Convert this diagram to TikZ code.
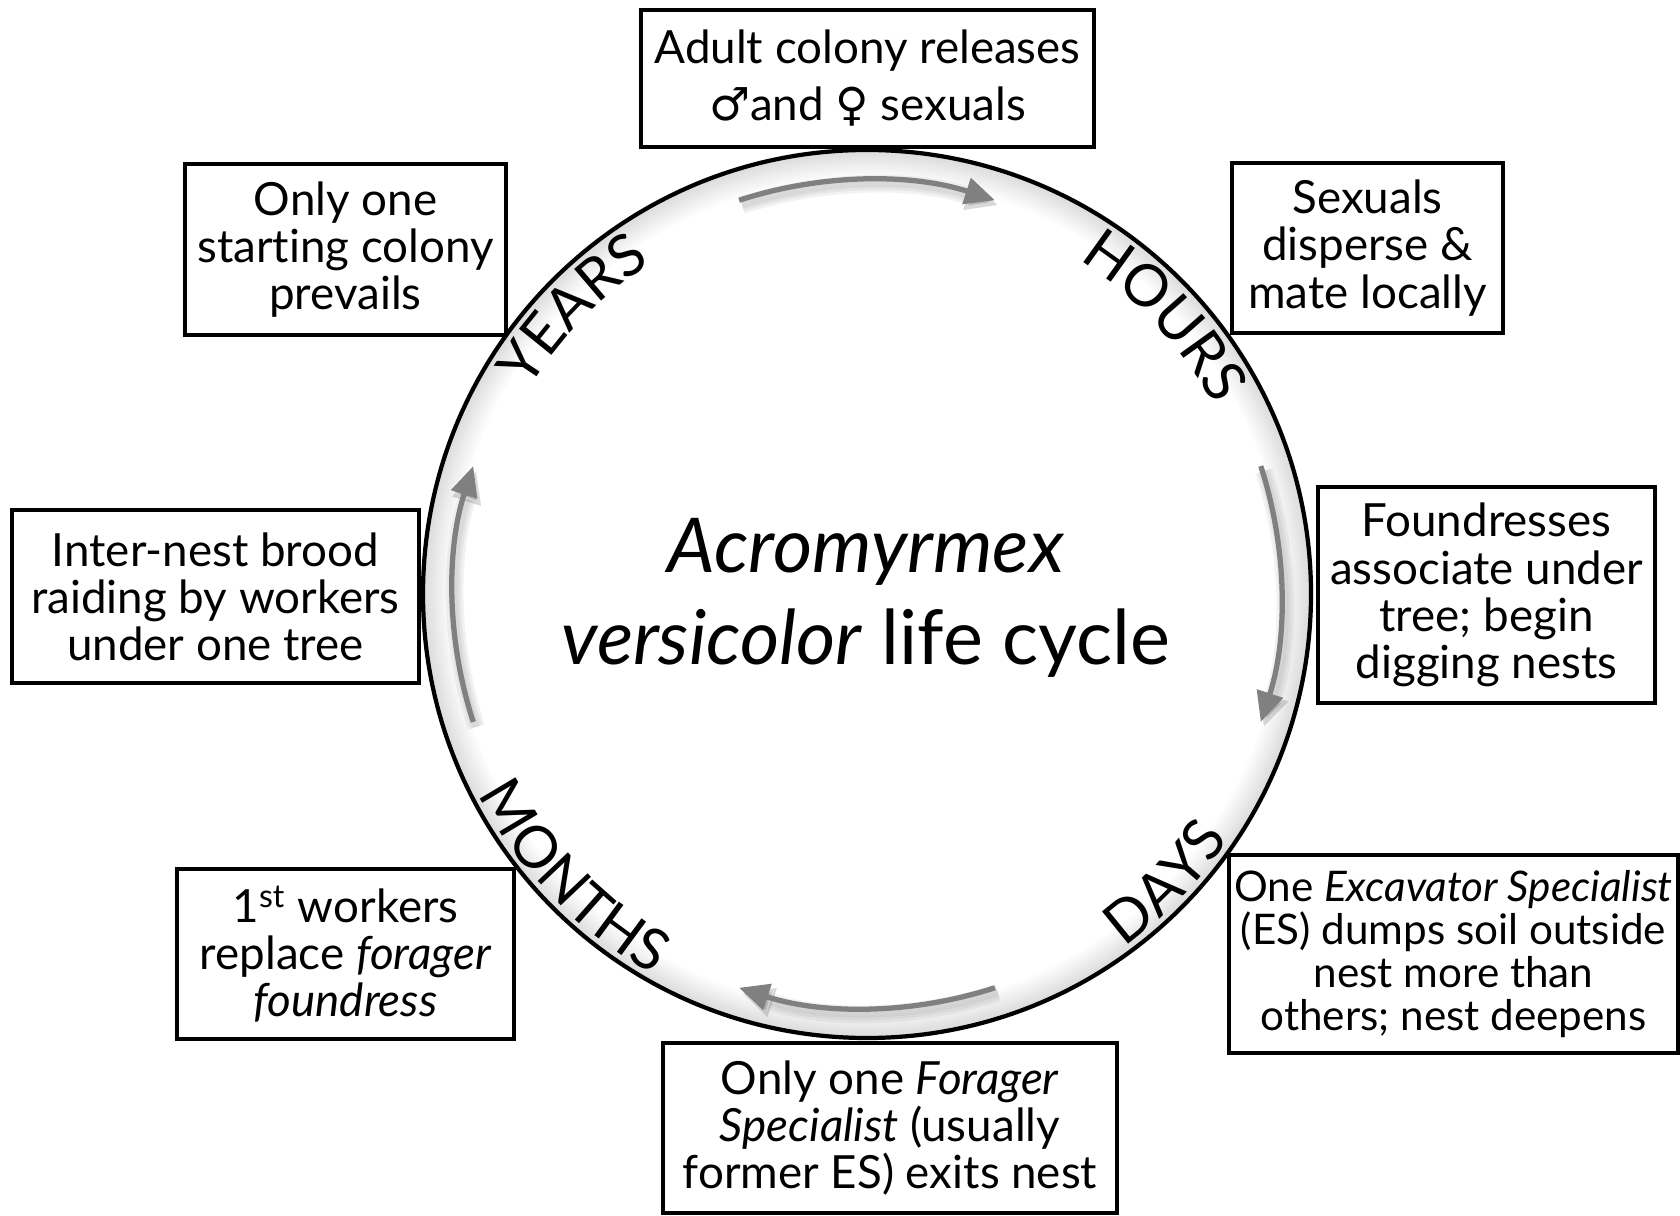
\documentclass[tikz,border=0pt]{standalone}
\usepackage{fontspec}
\setmainfont{Lato}[Ligatures=NoCommon]
\newfontfamily\symbfont{DejaVu Sans}
\usetikzlibrary{arrows.meta,decorations.text}
\newcommand\boxfont{\fontsize{13}{13.4}\selectfont}
\newcommand\phasefont{\fontsize{16.5}{18}\selectfont}
\tikzset{
  stagebox/.style={draw, fill=white, line width=1pt, align=center, inner sep=0pt, font=\boxfont},
  cyclearrow/.style={draw=black!50, line width=1.5pt, -{Triangle[length=8.5pt,width=7.5pt]}},
  arrowglow/.style={draw=black, opacity=.05, line width=#1, -{Triangle[length=9pt,width=8pt]}},
  phase/.style={decorate, decoration={text along path, text align=center, text={|\phasefont|#1}}},
}

\begin{document}
\begin{tikzpicture}[x=0.01cm,y=0.01cm]
  \useasboundingbox (0,0) rectangle (1680,1215);
  \coordinate (c) at (867,621);
  % soft shadow inside the ring
  \foreach \k in {0,...,14}{
    \pgfmathsetmacro\glow{14-\k}
    \pgfmathsetmacro\rr{444-2*\k}
    \fill[black!\glow] (c) circle[radius=\rr];
  }
  \fill[white] (c) circle[radius=415];
  \draw[line width=1.2pt] (c) circle[radius=444];

  \foreach \a in {90,0,-90,180}{
    \foreach \w in {5pt,3.5pt,2pt}
      \draw[arrowglow=\w] ([shift={(3,-5)}]c) ++({\a+18}:414) arc[start angle=\a+18, end angle=\a-18, radius=414];
    \draw[cyclearrow] (c) ++({\a+18}:414) arc[start angle=\a+18, end angle=\a-18, radius=414];
  }

  \path[phase=YEARS] ([shift={(166:395)}]c) arc[start angle=166, end angle=106, radius=395];
  \path[phase=HOURS] ([shift={(73:395)}]c) arc[start angle=73, end angle=13, radius=395];
  \path[phase=DAYS] ([shift={(-74:437)}]c) arc[start angle=-74, end angle=-14, radius=437];
  \path[phase=MONTHS] ([shift={(-166:437)}]c) arc[start angle=-166, end angle=-106, radius=437];

  \node (title) at (866,617) [align=center, font=\fontsize{21.5}{26}\selectfont]
    {\textit{Acromyrmex}\\\textit{versicolor} life cycle};

  \node[stagebox, minimum width=45.3mm, minimum height=13.7mm, font=\fontsize{13}{16.2}\selectfont] (release) at (867.5,1136.5)
    {Adult colony releases\\{\symbfont ♂}and {\symbfont ♀} sexuals};
  \node[stagebox, minimum width=27.1mm, minimum height=17mm] (disperse) at (1367.5,967)
    {Sexuals\\disperse \&\\mate locally};
  \node[stagebox, minimum width=33.7mm, minimum height=21.6mm] (associate) at (1486.5,620)
    {Foundresses\\associate under\\tree; begin\\digging nests};
  \node[stagebox, minimum width=44.9mm, minimum height=19.8mm, font=\fontsize{12}{12.2}\selectfont] (excavate) at (1453.5,261)
    {One \textit{Excavator Specialist}\\(ES) dumps soil outside\\nest more than\\others; nest deepens};
  \node[stagebox, minimum width=45.4mm, minimum height=17mm] (forage) at (890,87)
    {Only one \textit{Forager}\\\textit{Specialist} (usually\\former ES) exits nest};
  \node[stagebox, minimum width=33.7mm, minimum height=17mm] (workers) at (345.5,261)
    {1\textsuperscript{st} workers\\replace \textit{forager}\\\textit{foundress}};
  \node[stagebox, minimum width=40.7mm, minimum height=17.3mm] (raid) at (215.5,618.5)
    {Inter-nest brood\\raiding by workers\\under one tree};
  \node[stagebox, minimum width=32.1mm, minimum height=17.1mm] (prevail) at (345.5,965.5)
    {Only one\\starting colony\\prevails};
\end{tikzpicture}
\end{document}
